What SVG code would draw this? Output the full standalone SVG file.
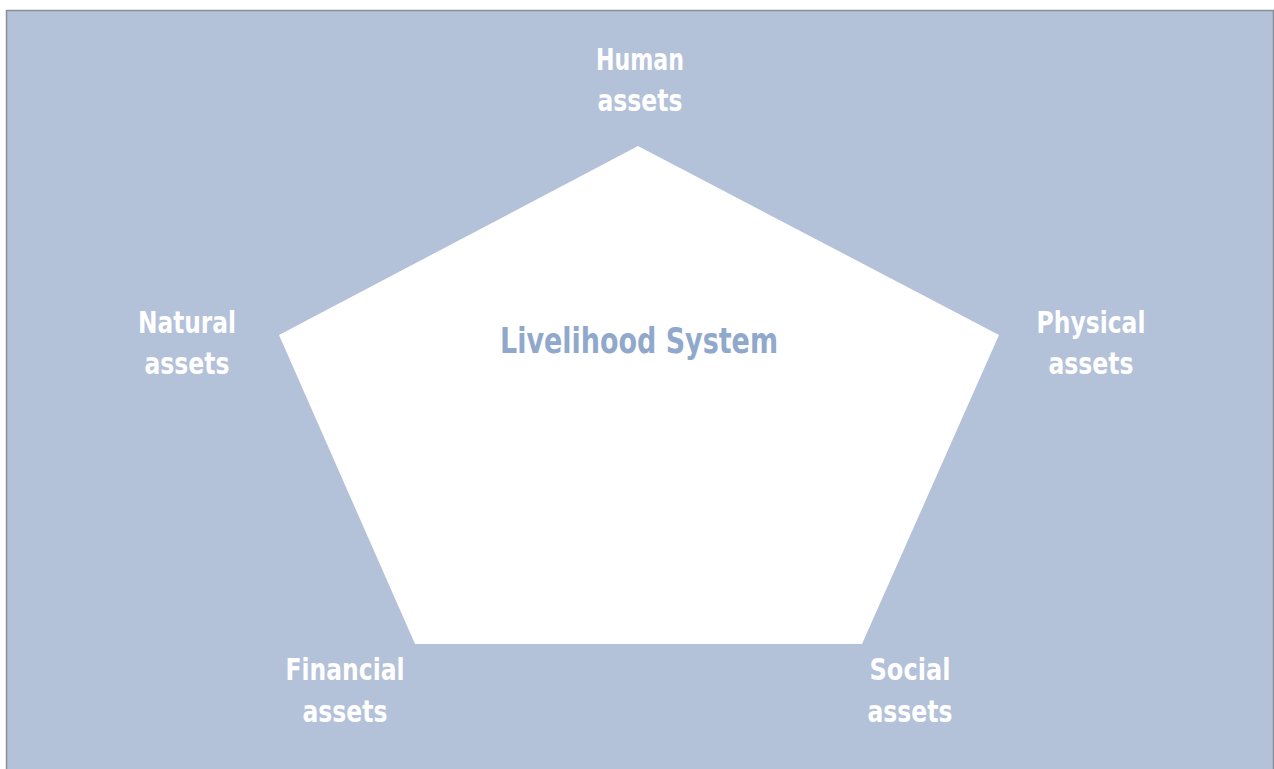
<svg xmlns="http://www.w3.org/2000/svg" width="1274" height="769" viewBox="0 0 1274 769">
  <style>
    .lbl { font-family: "DejaVu Sans Condensed", "DejaVu Sans", sans-serif; font-stretch: condensed; font-size: 30px; font-weight: bold; fill: #ffffff; text-anchor: middle; }
    .title { font-family: "DejaVu Sans Condensed", "DejaVu Sans", sans-serif; font-stretch: condensed; font-size: 35px; font-weight: bold; fill: #8FA8CB; text-anchor: middle; }
  </style>
  <rect x="0" y="0" width="1274" height="769" fill="#ffffff"/>
  <rect x="6.5" y="10.5" width="1267" height="760" fill="#B3C1D9" stroke="#8A8E94" stroke-width="1.5"/>
  <g id="pentagon">
    <polygon points="638,146 999,335 862,644 415,644 279,335" fill="#ffffff"/>
    <text class="title" x="639" y="353" textLength="278" lengthAdjust="spacingAndGlyphs">Livelihood System</text>
  </g>
  <g id="human">
    <text class="lbl" x="640" y="70" textLength="88" lengthAdjust="spacingAndGlyphs">Human</text>
    <text class="lbl" x="640" y="111" textLength="85" lengthAdjust="spacingAndGlyphs">assets</text>
  </g>
  <g id="physical">
    <text class="lbl" x="1091" y="333" textLength="109" lengthAdjust="spacingAndGlyphs">Physical</text>
    <text class="lbl" x="1091" y="374" textLength="85" lengthAdjust="spacingAndGlyphs">assets</text>
  </g>
  <g id="natural">
    <text class="lbl" x="187" y="333" textLength="98" lengthAdjust="spacingAndGlyphs">Natural</text>
    <text class="lbl" x="187" y="374" textLength="85" lengthAdjust="spacingAndGlyphs">assets</text>
  </g>
  <g id="financial">
    <text class="lbl" x="345" y="680" textLength="119" lengthAdjust="spacingAndGlyphs">Financial</text>
    <text class="lbl" x="345" y="722" textLength="85" lengthAdjust="spacingAndGlyphs">assets</text>
  </g>
  <g id="social">
    <text class="lbl" x="910" y="680" textLength="81" lengthAdjust="spacingAndGlyphs">Social</text>
    <text class="lbl" x="910" y="722" textLength="85" lengthAdjust="spacingAndGlyphs">assets</text>
  </g>
  <g id="connectors"></g>
</svg>
